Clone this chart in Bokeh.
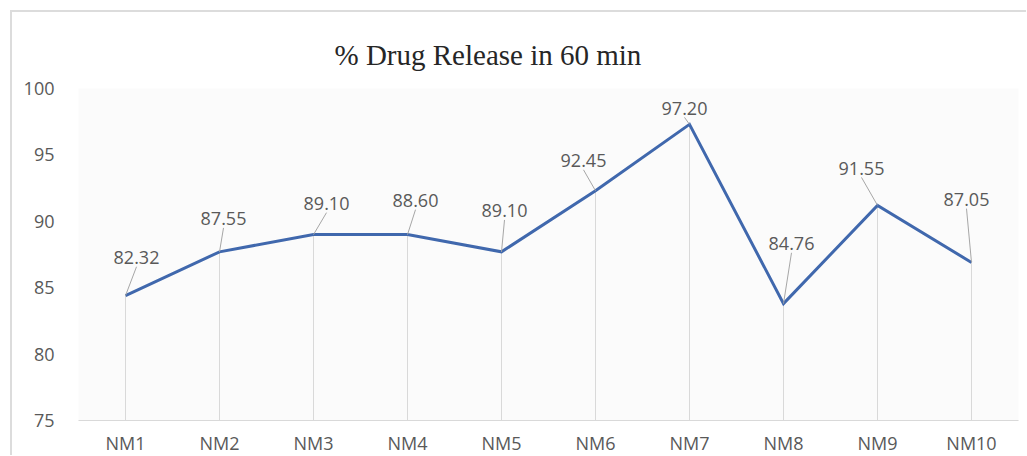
from bokeh.plotting import figure
from bokeh.models import FixedTicker, Title
from bokeh.core.properties import value
from bokeh.embed import file_html
from bokeh.resources import INLINE

# ---- data ----
categories = ["NM1", "NM2", "NM3", "NM4", "NM5", "NM6", "NM7", "NM8", "NM9", "NM10"]
plotted_values = [84.4, 87.7, 89.0, 89.0, 87.7, 92.3, 97.3, 83.8, 91.2, 86.9]
label_texts = ["82.32", "87.55", "89.10", "88.60", "89.10", "92.45", "97.20", "84.76", "91.55", "87.05"]
y_ticks = [75, 80, 85, 90, 95, 100]
title_text = "% Drug Release in 60 min"

# ---- label placement (pixel offsets of label centre from its point) ----
label_dx_px = [11, 4, 13, 8, 3, -12, -5, 8, -16, -5]
label_dy_px = [38, 33, 31, 34, 41, 30, 16, 60, 37, 63]

FRAME_W, FRAME_H = 940, 333
Y0, Y1 = 75, 100
px_per_x = FRAME_W / len(categories)
px_per_y = FRAME_H / (Y1 - Y0)

xs = list(range(1, len(categories) + 1))

p = figure(width=1016, height=445, output_backend="svg", toolbar_location=None,
           x_range=(0.5, len(categories) + 0.5), y_range=(Y0, Y1),
           min_border_left=66, min_border_right=10, min_border_top=76, min_border_bottom=36)
p.styles = {"border-top": "2px solid #dcdcdc", "border-left": "2px solid #dcdcdc",
            "margin-left": "10px", "margin-top": "10px"}
p.outline_line_color = None
p.xgrid.visible = False
p.ygrid.visible = False
p.background_fill_color = "#fbfbfb"
p.border_fill_color = "white"

# drop lines
p.segment(x0=xs, y0=[Y0] * len(xs), x1=xs, y1=plotted_values, line_color="#d9d9d9", line_width=1)

# main line
p.line(x=xs, y=plotted_values, line_color="#4068ad", line_width=3, line_join="miter")

# labels and leader lines
lx = [x + dx / px_per_x for x, dx in zip(xs, label_dx_px)]
ly = [y + dy / px_per_y for y, dy in zip(plotted_values, label_dy_px)]
lead_x1 = [x + dx / px_per_x for x, dx in zip(xs, label_dx_px)]
lead_y1 = [y + (dy - 9) / px_per_y for y, dy in zip(plotted_values, label_dy_px)]
p.segment(x0=xs, y0=plotted_values, x1=lead_x1, y1=lead_y1, line_color="#a6a6a6", line_width=1)
p.text(x=lx, y=ly, text=label_texts, text_align="center", text_baseline="middle",
       text_font=value("Open Sans"), text_font_size="18px", text_color="#595959")

# axes
p.xaxis.ticker = FixedTicker(ticks=xs)
p.xaxis.major_label_overrides = {x: c for x, c in zip(xs, categories)}
p.xaxis.axis_line_color = "#d9d9d9"
p.xaxis.axis_line_width = 1
p.xaxis.major_tick_line_color = None
p.xaxis.minor_tick_line_color = None
p.xaxis.major_label_text_color = "#595959"
p.xaxis.major_label_text_font = "Open Sans"
p.xaxis.major_label_text_font_size = "18px"
p.xaxis.major_label_standoff = 4

p.yaxis.ticker = FixedTicker(ticks=y_ticks)
p.yaxis.axis_line_color = None
p.yaxis.major_tick_line_color = None
p.yaxis.minor_tick_line_color = None
p.yaxis.major_label_text_color = "#595959"
p.yaxis.major_label_text_font = "Open Sans"
p.yaxis.major_label_text_font_size = "18px"
p.yaxis.major_label_standoff = 18

p.title = Title(text=title_text, align="left", offset=256, vertical_align="middle",
                text_font="Liberation Serif", text_font_size="29px",
                text_font_style="normal", text_color="#262626", standoff=33)

open("out.html", "w").write(file_html(p, INLINE))
